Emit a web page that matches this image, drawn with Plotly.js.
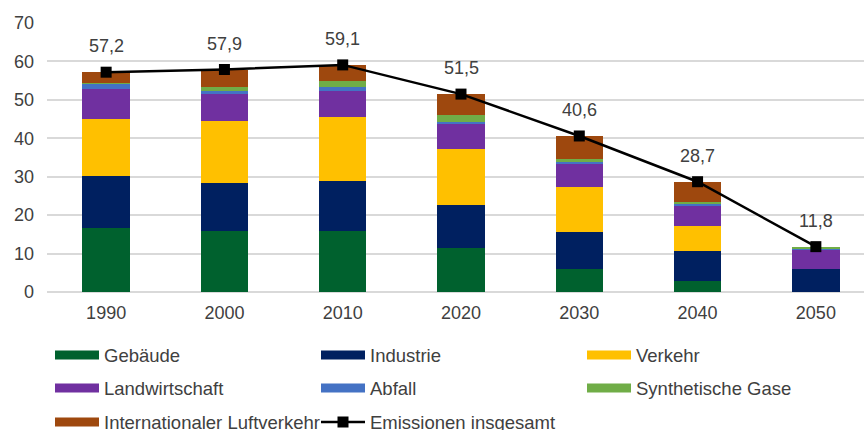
<!DOCTYPE html>
<html><head><meta charset="utf-8">
<script src="https://cdn.plot.ly/plotly-3.0.1.min.js"></script>
<style>html,body{margin:0;padding:0;background:#fff}#chart{width:864px;height:430px}</style>
</head><body><div id="chart"></div>
<script>
const years = ['1990', '2000', '2010', '2020', '2030', '2040', '2050'];
const gebaeude = [16.7, 15.8, 16.0, 11.4, 6.0, 2.9, 0];
const industrie = [13.4, 12.6, 13.0, 11.2, 9.6, 7.8, 6.1];
const verkehr = [15.0, 16.1, 16.5, 14.5, 11.6, 6.4, 0];
const landwirtschaft = [7.8, 7.0, 6.8, 6.6, 6.2, 5.3, 4.8];
const abfall = [1.1, 0.8, 1.0, 0.6, 0.4, 0.5, 0.3];
const synthGase = [0.4, 1.0, 1.5, 1.8, 0.8, 0.5, 0.6];
const luftverkehr = [2.8, 4.6, 4.3, 5.4, 6.0, 5.3, 0];
const insgesamt = [57.2, 57.9, 59.1, 51.5, 40.6, 28.7, 11.8];
const seriesNames = ['Gebäude', 'Industrie', 'Verkehr', 'Landwirtschaft', 'Abfall', 'Synthetische Gase', 'Internationaler Luftverkehr'];
const totalName = 'Emissionen insgesamt';
const yTicks = [0, 10, 20, 30, 40, 50, 60, 70];

const seriesValues = [gebaeude, industrie, verkehr, landwirtschaft, abfall, synthGase, luftverkehr];
const seriesColors = ['#00612E', '#002060', '#FFC000', '#7030A0', '#4472C4', '#70AD47', '#9E480E'];
const legendRow = ['legend', 'legend', 'legend', 'legend2', 'legend2', 'legend2', 'legend3'];
const FONT = 'Liberation Sans, Arial, sans-serif';
const TXT = '#404040';

const traces = [];
seriesValues.forEach((vals, i) => {
  traces.push({
    type: 'bar', x: years, y: vals, name: seriesNames[i],
    marker: {color: seriesColors[i], line: {width: 0}},
    showlegend: false, hoverinfo: 'name+y'
  });
});
// legend swatches (wide flat rectangles like the original)
seriesValues.forEach((vals, i) => {
  traces.push({
    type: 'scatter', mode: 'lines', x: [null], y: [null], name: seriesNames[i],
    line: {color: seriesColors[i], width: 9}, legend: legendRow[i], showlegend: true, hoverinfo: 'skip'
  });
});
traces.push({
  type: 'scatter', mode: 'lines+markers', x: years, y: insgesamt, name: totalName,
  line: {color: '#000000', width: 2.5},
  marker: {symbol: 'square', size: 11, color: '#000000'},
  legend: 'legend3', showlegend: true
});

const annotations = years.map((yr, i) => ({
  x: i, y: insgesamt[i], xref: 'x', yref: 'y',
  text: insgesamt[i].toFixed(1).replace('.', ','),
  showarrow: false, yshift: 26, xanchor: 'center', yanchor: 'middle',
  font: {family: FONT, size: 18, color: TXT}
}));

const legendBase = {
  orientation: 'h', xanchor: 'left', yanchor: 'middle', xref: 'container', yref: 'container',
  x: 50 / 864, traceorder: 'normal',
  font: {family: FONT, size: 18.5, color: TXT},
  itemwidth: 44, entrywidth: 207, bgcolor: 'rgba(0,0,0,0)', borderwidth: 0,
  itemclick: false, itemdoubleclick: false
};

const layout = {
  width: 864, height: 430,
  margin: {l: 47, r: 0, t: 23, b: 138, autoexpand: false},
  paper_bgcolor: '#ffffff', plot_bgcolor: '#ffffff',
  barmode: 'stack', bargap: 0.6,
  font: {family: FONT, size: 18, color: TXT},
  xaxis: {
    type: 'category', range: [-0.5, 6.407], showgrid: false, zeroline: false,
    showline: false, ticks: '', ticklabelstandoff: 8,
    tickfont: {family: FONT, size: 18, color: TXT}, fixedrange: true
  },
  yaxis: {
    range: [0, 70], tickvals: yTicks, showgrid: true, gridcolor: '#d9d9d9', gridwidth: 2,
    zeroline: true, zerolinecolor: '#d9d9d9', zerolinewidth: 2,
    showline: false, ticks: '', ticklabelstandoff: 12,
    tickfont: {family: FONT, size: 18, color: TXT}, fixedrange: true
  },
  legend: Object.assign({}, legendBase, {y: 1 - 355.5 / 430}),
  legend2: Object.assign({}, legendBase, {y: 1 - 388.5 / 430}),
  legend3: Object.assign({}, legendBase, {y: 1 - 422.5 / 430}),
  annotations: annotations,
  showlegend: true
};

Plotly.newPlot('chart', traces, layout, {displayModeBar: false, staticPlot: true});
</script>
</body></html>
